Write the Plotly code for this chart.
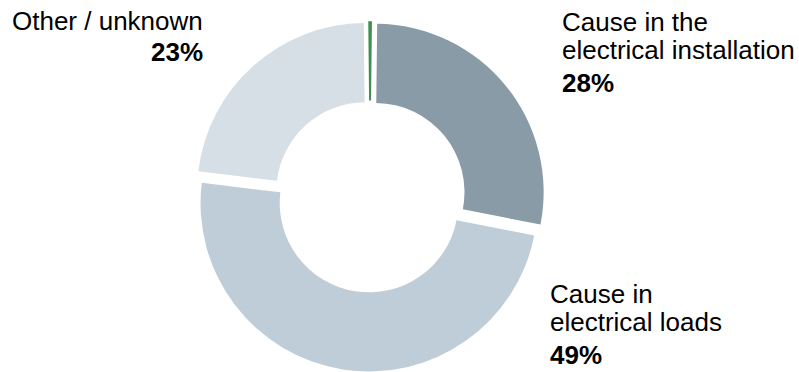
import plotly.graph_objects as go

# Share of causes (percent); the first entry is a thin marker slice at 12 o'clock
categories = ["Marker", "Cause in the electrical installation", "Cause in electrical loads", "Other / unknown"]
values = [0.35, 28, 49, 23]
colors = ["#3f8f52", "#8a9ba8", "#bfcdd8", "#d6dee6"]

# Label text lines for each cause
label_lines = {
    "Cause in the electrical installation": ["Cause in the", "electrical installation"],
    "Cause in electrical loads": ["Cause in", "electrical loads"],
    "Other / unknown": ["Other / unknown"],
}

W, H = 799, 372
FONT = "Liberation Sans, Arial, sans-serif"

fig = go.Figure(
    go.Pie(
        labels=categories,
        values=values,
        sort=False,
        direction="clockwise",
        rotation=-0.6,
        hole=0.53,
        pull=0.04,
        marker=dict(colors=colors, line=dict(width=0)),
        textinfo="none",
        hoverinfo="skip",
        showlegend=False,
        domain=dict(x=[0.2031, 0.7231], y=[0.0012, 0.9428]),
    )
)


def add_line(text, px, py, anchor, bold=False):
    fig.add_annotation(
        text=f"<b>{text}</b>" if bold else text,
        x=px / W,
        y=1 - py / H,
        xref="paper",
        yref="paper",
        xanchor=anchor,
        yanchor="middle",
        showarrow=False,
        borderpad=0,
        borderwidth=0,
        font=dict(family=FONT, size=26, color="#000000"),
    )


def pct(v):
    return f"{v:g}%"


# Right-top label (28%)
for i, t in enumerate(label_lines[categories[1]]):
    add_line(t, 562, [22, 50][i], "left")
add_line(pct(values[1]), 562, 82.5, "left", bold=True)

# Right-bottom label (49%)
for i, t in enumerate(label_lines[categories[2]]):
    add_line(t, 550, [294, 322][i], "left")
add_line(pct(values[2]), 550, 354.5, "left", bold=True)

# Left-top label (23%)
add_line(label_lines[categories[3]][0], 203, 21.5, "right")
add_line(pct(values[3]), 203, 52.5, "right", bold=True)

fig.update_layout(
    width=W,
    height=H,
    margin=dict(l=0, r=0, t=0, b=0),
    paper_bgcolor="#ffffff",
    plot_bgcolor="#ffffff",
)

fig.write_html("out.html")
